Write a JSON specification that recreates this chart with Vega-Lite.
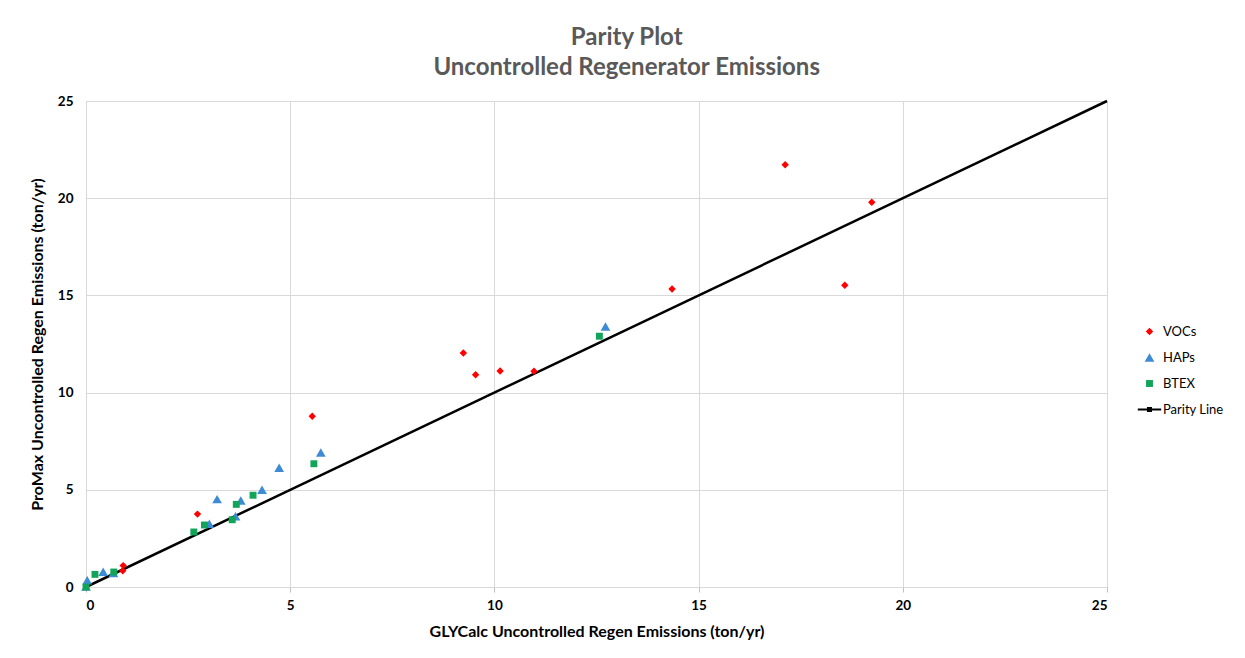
{
  "$schema": "https://vega.github.io/schema/vega-lite/v6.json",
  "width": 1021,
  "height": 486,
  "autosize": {"type": "none"},
  "padding": {"left": 86, "top": 101, "right": 138, "bottom": 71},
  "background": "white",
  "config": {
    "font": "Lato",
    "view": {"stroke": null},
    "axis": {
      "gridColor": "#d9d9d9",
      "domainColor": "#d9d9d9",
      "tickColor": "#bfbfbf",
      "labelFont": "Lato",
      "labelFontSize": 13.5,
      "labelFontWeight": "bold",
      "labelColor": "#000000",
      "titleFont": "Lato",
      "titleFontSize": 16,
      "titleFontWeight": "bold",
      "titleColor": "#000000"
    }
  },
  "title": {
    "text": ["Parity Plot", "Uncontrolled Regenerator Emissions"],
    "fontSize": 24,
    "fontWeight": "bold",
    "color": "#595959",
    "font": "Lato",
    "lineHeight": 30,
    "anchor": "middle",
    "frame": "bounds",
    "offset": 14
  },
  "datasets": {
    "points": [
      {"series": "VOCs", "x": 0.90, "y": 0.84},
      {"series": "VOCs", "x": 0.91, "y": 1.10},
      {"series": "VOCs", "x": 2.73, "y": 3.75},
      {"series": "VOCs", "x": 5.54, "y": 8.78},
      {"series": "VOCs", "x": 9.24, "y": 12.04},
      {"series": "VOCs", "x": 9.54, "y": 10.92},
      {"series": "VOCs", "x": 10.14, "y": 11.11},
      {"series": "VOCs", "x": 10.97, "y": 11.10},
      {"series": "VOCs", "x": 14.35, "y": 15.33},
      {"series": "VOCs", "x": 17.12, "y": 21.72},
      {"series": "VOCs", "x": 19.24, "y": 19.79},
      {"series": "VOCs", "x": 18.58, "y": 15.52},
      {"series": "HAPs", "x": 0.03, "y": 0.35},
      {"series": "HAPs", "x": 0.0, "y": 0.02},
      {"series": "HAPs", "x": 0.42, "y": 0.78},
      {"series": "HAPs", "x": 0.67, "y": 0.72},
      {"series": "HAPs", "x": 3.02, "y": 3.25},
      {"series": "HAPs", "x": 3.21, "y": 4.52},
      {"series": "HAPs", "x": 3.66, "y": 3.64},
      {"series": "HAPs", "x": 3.79, "y": 4.45},
      {"series": "HAPs", "x": 4.31, "y": 5.00},
      {"series": "HAPs", "x": 4.73, "y": 6.13},
      {"series": "HAPs", "x": 5.75, "y": 6.92},
      {"series": "HAPs", "x": 12.72, "y": 13.40},
      {"series": "BTEX", "x": 0.0, "y": 0.0},
      {"series": "BTEX", "x": 0.22, "y": 0.65},
      {"series": "BTEX", "x": 0.68, "y": 0.77},
      {"series": "BTEX", "x": 2.64, "y": 2.83},
      {"series": "BTEX", "x": 2.90, "y": 3.19},
      {"series": "BTEX", "x": 3.58, "y": 3.46},
      {"series": "BTEX", "x": 3.68, "y": 4.25},
      {"series": "BTEX", "x": 4.09, "y": 4.72},
      {"series": "BTEX", "x": 5.58, "y": 6.34},
      {"series": "BTEX", "x": 12.57, "y": 12.90}
    ],
    "parity": [
      {"series": "Parity Line", "x": 0, "y": 0},
      {"series": "Parity Line", "x": 25, "y": 25}
    ]
  },
  "layer": [
    {
      "data": {"name": "parity"},
      "mark": {"type": "line", "strokeWidth": 2.5},
      "encoding": {
        "x": {"field": "x", "type": "quantitative"},
        "y": {"field": "y", "type": "quantitative"},
        "color": {"field": "series", "type": "nominal"}
      }
    },
    {
      "data": {"name": "points"},
      "mark": {"type": "point", "filled": true, "opacity": 1},
      "encoding": {
        "x": {
          "field": "x",
          "type": "quantitative",
          "scale": {"domain": [0, 25], "nice": false, "zero": true},
          "axis": {
            "values": [0, 5, 10, 15, 20, 25],
            "title": "GLYCalc Uncontrolled Regen Emissions (ton/yr)",
            "tickSize": 5,
            "labelPadding": 6,
            "titlePadding": 12
          }
        },
        "y": {
          "field": "y",
          "type": "quantitative",
          "scale": {"domain": [0, 25], "nice": false, "zero": true},
          "axis": {
            "values": [0, 5, 10, 15, 20, 25],
            "title": "ProMax Uncontrolled Regen Emissions (ton/yr)",
            "tickSize": 0,
            "labelPadding": 13,
            "titlePadding": 12
          }
        },
        "size": {
          "field": "series",
          "type": "nominal",
          "scale": {
            "type": "ordinal",
            "domain": ["VOCs", "HAPs", "BTEX", "Parity Line"],
            "range": [55, 95, 48, 40]
          },
          "legend": {
            "title": null,
            "orient": "none",
            "legendX": 1057,
            "legendY": 224
          }
        },
        "color": {
          "field": "series",
          "type": "nominal",
          "scale": {
            "domain": ["VOCs", "HAPs", "BTEX", "Parity Line"],
            "range": ["#ff0000", "#3d8bd4", "#12a55a", "#000000"]
          },
          "legend": {
            "title": null,
            "orient": "none",
            "legendX": 1057,
            "legendY": 224,
            "padding": 0,
            "labelFont": "Lato",
            "labelFontSize": 13,
            "labelColor": "#000000",
            "labelOffset": 7,
            "rowPadding": 12,
            "symbolStrokeWidth": 0
          }
        },
        "shape": {
          "field": "series",
          "type": "nominal",
          "scale": {
            "domain": ["VOCs", "HAPs", "BTEX", "Parity Line"],
            "range": ["diamond", "triangle-up", "square", "M-3.7,-0.3H3.7V0.3H-3.7Z M-0.8,-0.8H0.8V0.8H-0.8Z"]
          },
          "legend": {
            "title": null,
            "orient": "none",
            "legendX": 1057,
            "legendY": 224
          }
        }
      }
    }
  ]
}
